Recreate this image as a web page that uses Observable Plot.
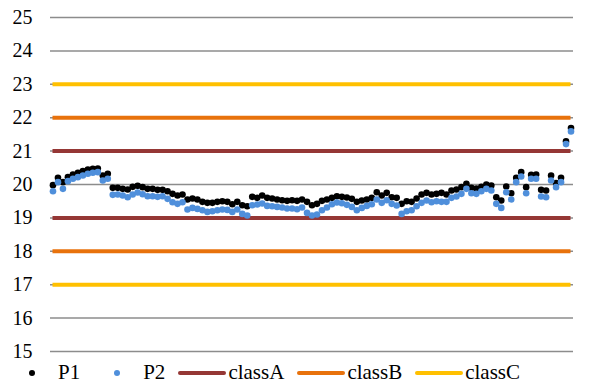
<!DOCTYPE html>
<html>
<head>
<meta charset="utf-8">
<script src="https://cdn.jsdelivr.net/npm/d3@7"></script>
<script src="https://cdn.jsdelivr.net/npm/@observablehq/plot@0.6"></script>
<style>
  html, body { margin: 0; padding: 0; background: #fff; }
  #chart svg { display: block; }
  .legend { display: flex; align-items: center; height: 21px; line-height: 21px; padding-left: 8px;
            font-size: 21px; color: #000; }
  .legend .item { display: flex; align-items: center; margin-right: 13px; }
  .legend svg { display: block; margin-right: 2px; }
</style>
</head>
<body style="font-family: 'Liberation Serif';">
<div id="chart"></div>
<div class="legend" id="legend" style="font-family: 'Liberation Serif';">
  <div class="item"><svg width="48" height="12"><circle cx="24" cy="6" r="3" fill="#000000"/></svg><span style="font-family: 'Liberation Serif';">P1</span></div>
  <div class="item"><svg width="48" height="12"><circle cx="24" cy="6" r="3" fill="#4f8fdb"/></svg><span style="font-family: 'Liberation Serif';">P2</span></div>
  <div class="item"><svg width="48" height="12"><line x1="2" x2="46" y1="6" y2="6" stroke="#953735" stroke-width="4" stroke-linecap="round"/></svg><span style="font-family: 'Liberation Serif';">classA</span></div>
  <div class="item"><svg width="48" height="12"><line x1="2" x2="46" y1="6" y2="6" stroke="#e8720c" stroke-width="4" stroke-linecap="round"/></svg><span style="font-family: 'Liberation Serif';">classB</span></div>
  <div class="item"><svg width="48" height="12"><line x1="2" x2="46" y1="6" y2="6" stroke="#ffc000" stroke-width="4" stroke-linecap="round"/></svg><span style="font-family: 'Liberation Serif';">classC</span></div>
</div>
<script>
// Measured series (one reading per sample)
const p1 = [19.98, 20.20, 20.07, 20.22, 20.30, 20.35, 20.40, 20.45, 20.47, 20.48,
            20.27, 20.32, 19.90, 19.90, 19.87, 19.85, 19.93, 19.96, 19.92, 19.87,
            19.87, 19.84, 19.84, 19.80, 19.72, 19.67, 19.70, 19.55, 19.58, 19.55,
            19.48, 19.45, 19.45, 19.48, 19.50, 19.48, 19.41, 19.48, 19.38, 19.35,
            19.63, 19.60, 19.67, 19.60, 19.58, 19.55, 19.53, 19.51, 19.53, 19.51,
            19.55, 19.48, 19.38, 19.42, 19.51, 19.55, 19.60, 19.65, 19.63, 19.61,
            19.57, 19.48, 19.52, 19.55, 19.60, 19.77, 19.67, 19.75, 19.62, 19.60,
            19.42, 19.50, 19.48, 19.58, 19.70, 19.75, 19.70, 19.72, 19.75, 19.70,
            19.82, 19.85, 19.92, 20.02, 19.90, 19.88, 19.93, 20.00, 19.97, 19.62,
            19.52, 19.94, 19.74, 20.20, 20.37, 19.92, 20.29, 20.30, 19.84, 19.82,
            20.27, 20.04, 20.20, 21.29, 21.69];
const p2 = [19.80, 20.07, 19.87, 20.10, 20.17, 20.22, 20.27, 20.32, 20.35, 20.37,
            20.12, 20.17, 19.69, 19.70, 19.67, 19.62, 19.70, 19.76, 19.71, 19.65,
            19.65, 19.63, 19.65, 19.57, 19.47, 19.42, 19.47, 19.25, 19.30, 19.27,
            19.23, 19.18, 19.20, 19.23, 19.25, 19.24, 19.18, 19.25, 19.12, 19.07,
            19.38, 19.40, 19.43, 19.36, 19.35, 19.33, 19.31, 19.28, 19.28, 19.26,
            19.31, 19.15, 19.07, 19.10, 19.23, 19.31, 19.41, 19.46, 19.44, 19.39,
            19.33, 19.23, 19.30, 19.36, 19.41, 19.55, 19.45, 19.53, 19.42, 19.37,
            19.12, 19.20, 19.23, 19.35, 19.45, 19.52, 19.47, 19.50, 19.48, 19.48,
            19.60, 19.64, 19.72, 19.87, 19.74, 19.72, 19.80, 19.87, 19.82, 19.42,
            19.30, 19.77, 19.55, 20.07, 20.24, 19.74, 20.17, 20.17, 19.64, 19.62,
            20.12, 19.92, 20.07, 21.21, 21.59];

// Tolerance limits per class
const classA = [19, 21];
const classB = [18, 22];
const classC = [17, 23];

const yTicks = [15, 16, 17, 18, 19, 20, 21, 22, 23, 24, 25];

const colors = { P1: "#000000", P2: "#4f8fdb", classA: "#953735", classB: "#e8720c", classC: "#ffc000" };

const n = p1.length;
const pts1 = p1.map((v, i) => ({ i, v }));
const pts2 = p2.map((v, i) => ({ i, v }));
const limitRule = (vals, color) =>
  Plot.ruleY(vals, { y: d => d, x1: () => 0, x2: () => n - 1, stroke: color, strokeWidth: 4 });

const chart = Plot.plot({
  width: 596,
  height: 362,
  marginTop: 17,
  marginBottom: 11,
  marginLeft: 50,
  marginRight: 23,
  style: "font-family: 'Liberation Serif'; font-size: 20px; color: #000; background: #fff;",
  x: { domain: [-0.5, n - 0.5], axis: null },
  y: { domain: [15, 25], ticks: yTicks, tickSize: 0, tickPadding: 18, label: null, tickFormat: d => String(d) },
  marks: [
    Plot.ruleY(yTicks, { stroke: "#8c8c8c", strokeWidth: 1.5 }),
    limitRule(classC, colors.classC),
    limitRule(classB, colors.classB),
    limitRule(classA, colors.classA),
    Plot.dot(pts1, { x: "i", y: "v", r: 3.3, fill: colors.P1, stroke: "none" }),
    Plot.dot(pts2, { x: "i", y: "v", r: 3.3, fill: colors.P2, stroke: "none" })
  ]
});
chart.setAttribute("font-family", "Liberation Serif");
chart.querySelectorAll("g[aria-label='y-axis tick label']").forEach(g => {
  g.setAttribute("font-family", "Liberation Serif");
  g.style.fontFamily = "'Liberation Serif'";
});
document.getElementById("chart").appendChild(chart);
</script>
</body>
</html>
